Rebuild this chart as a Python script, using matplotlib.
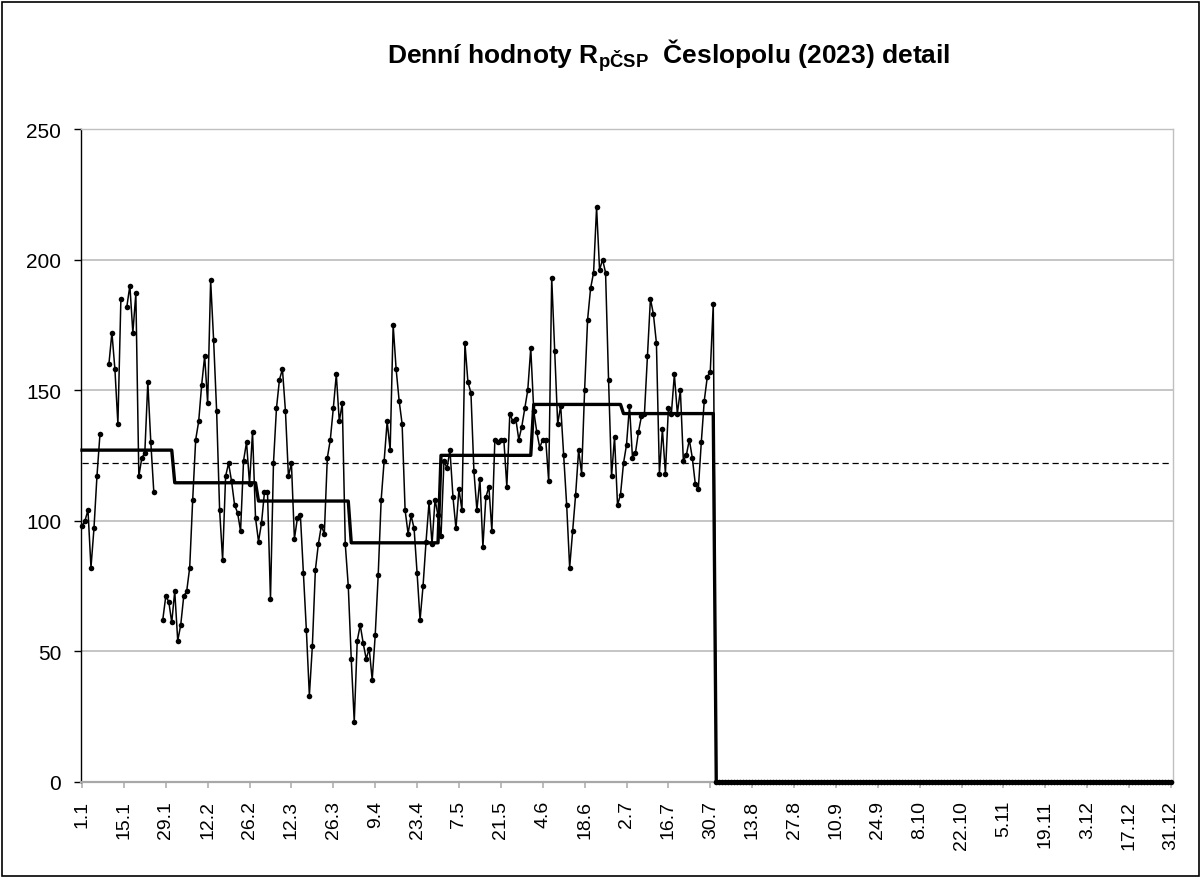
import matplotlib
matplotlib.use('Agg')
import matplotlib.pyplot as plt
from matplotlib.patches import Rectangle
import pandas as pd

plt.rcParams['font.family'] = ['Liberation Sans', 'DejaVu Sans']
plt.rcParams['mathtext.fontset'] = 'custom'
plt.rcParams['mathtext.bf'] = 'Liberation Sans:bold'
plt.rcParams['mathtext.rm'] = 'Liberation Sans'

# denní hodnoty (None = chybějící den)
jan = [98, 100, 104, 82, 97, 117, 133, None, None, 160, 172, 158, 137, 185, None,
       182, 190, 172, 187, 117, 124, 126, 153, 130, 111, None, None, 62, 71, 69, 61]
feb = [73, 54, 60, 71, 73, 82, 108, 131, 138, 152, 163, 145, 192, 169, 142, 104,
       85, 117, 122, 115, 106, 103, 96, 123, 130, 114, 134, 101]
mar = [92, 99, 111, 111, 70, 122, 143, 154, 158, 142, 117, 122, 93, 101, 102, 80,
       58, 33, 52, 81, 91, 98, 95, 124, 131, 143, 156, 138, 145, 91, 75]
apr = [47, 23, 54, 60, 53, 47, 51, 39, 56, 79, 108, 123, 138, 127, 175, 158,
       146, 137, 104, 95, 102, 97, 80, 62, 75, 92, 107, 91, 108, 102]
may = [94, 123, 120, 127, 109, 97, 112, 104, 168, 153, 149, 119, 104, 116, 90, 109,
       113, 96, 131, 130, 131, 131, 113, 141, 138, 139, 131, 136, 143, 150, 166]
jun = [142, 134, 128, 131, 131, 115, 193, 165, 137, 144, 125, 106, 82, 96, 110, 127,
       118, 150, 177, 189, 195, 220, 196, 200, 195, 154, 117, 132, 106, 110]
jul = [122, 129, 144, 124, 126, 134, 140, 141, 163, 185, 179, 168, 118, 135, 118, 143,
       141, 156, 141, 150, 123, 125, 131, 124, 114, 112, 130, 146, 155, 157, 183]
aug_dec = [0] * 153  # zbytek roku nulový

# měsíční průměry a roční průměr
month_means = [127, 114.5, 107.5, 91.5, 125, 144.5, 141, 0, 0, 0, 0, 0]
year_mean = 122

dates = pd.date_range('2023-01-01', '2023-12-31', freq='D')
daily = jan + feb + mar + apr + may + jun + jul + aug_dec
daily = [float('nan') if v is None else v for v in daily]
monthly = [month_means[d.month - 1] for d in dates]
days = list(range(len(dates)))

tick_pos = days[::14]
tick_labels = [f'{dates[i].day}.{dates[i].month}' for i in tick_pos]

fig = plt.figure(figsize=(12.02, 8.79), dpi=100)
ax = fig.add_axes([80.5 / 1202, 1 - 782.7 / 879, (1172.5 - 80.5) / 1202, (782.7 - 130) / 879])

ax.grid(True, axis='y', color='#c0c0c0', linewidth=1.3, zorder=0)
ax.set_axisbelow(True)

ax.plot(days, [year_mean] * len(days), color='black', linewidth=0.9,
        linestyle=(0, (5, 3)), zorder=2)
ax.plot(days, monthly, color='black', linewidth=2.4, zorder=3, clip_on=False)
ax.plot(days, daily, color='black', linewidth=1.1, marker='o', markersize=4,
        markeredgewidth=0, zorder=4, clip_on=False)

ax.set_xlim(-0.5, 364.5)
ax.set_ylim(0, 250)
ax.set_yticks(range(0, 251, 50))
ax.set_xticks(tick_pos)
ax.set_xticklabels(tick_labels, rotation=90, va='top', ha='center')

ax.tick_params(axis='y', direction='out', length=5, width=1, color='black',
               labelsize=15, pad=9)
ax.tick_params(axis='x', direction='out', length=4, width=1.2, color='#b0b0b0',
               labelsize=14, pad=9)

ax.spines['left'].set_color('black')
ax.spines['left'].set_linewidth(1)
ax.spines['bottom'].set_color('#a8a8a8')
ax.spines['bottom'].set_linewidth(1.6)
for s in ('top', 'right'):
    ax.spines[s].set_color('#c0c0c0')
    ax.spines[s].set_linewidth(1)

fig.text(669 / 1202, 1 - 63 / 879,
         r'Denní hodnoty R$_{\mathbf{pČSP}}$  Česlopolu (2023) detail',
         ha='center', va='baseline', fontsize=19, fontweight='bold')

fig.add_artist(Rectangle((2 / 1202, 2 / 879), 1197 / 1202, 874 / 879,
                         transform=fig.transFigure, fill=False,
                         edgecolor='black', linewidth=1.2))

fig.savefig('out.png', dpi=100, facecolor='white')
